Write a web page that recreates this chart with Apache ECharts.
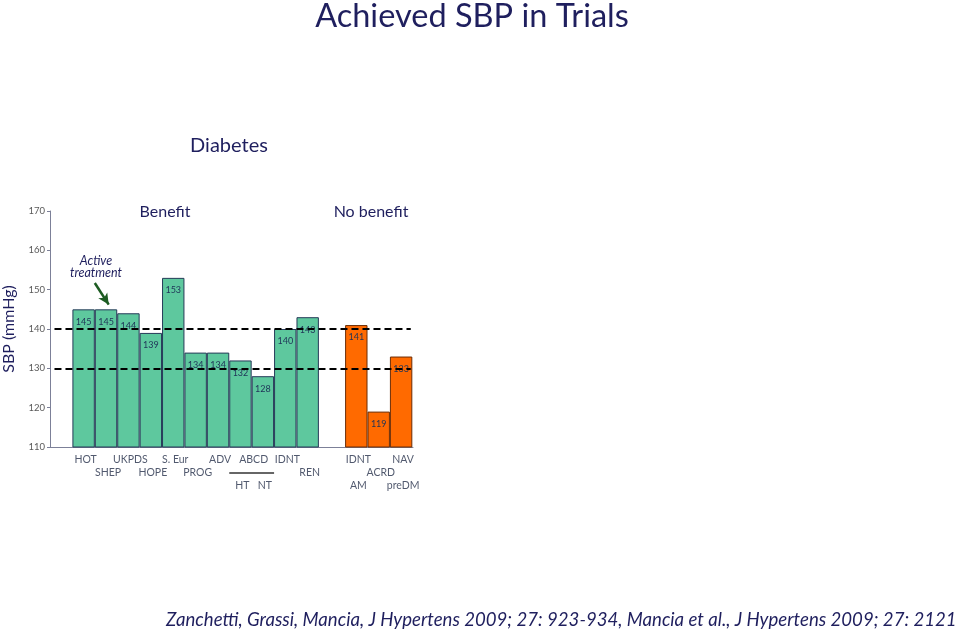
<!DOCTYPE html>
<html><head><meta charset="utf-8">
<script src="https://cdn.jsdelivr.net/npm/echarts@6/dist/echarts.min.js"></script>
<style>html,body{margin:0;padding:0;background:#fff}#c{width:960px;height:634px}</style>
</head><body><div id="c"></div>
<script>
// ---- data ----
const benefitTrials = ['HOT','SHEP','UKPDS','HOPE','S. Eur','PROG','ADV','ABCD HT','ABCD NT','IDNT','REN'];
const benefitSBP = [145,145,144,139,153,134,134,132,128,140,143];
const noBenefitTrials = ['IDNT','ACRD AM','NAV preDM'];
const noBenefitSBP = [141,119,133];
const targetLines = [140,130];
const yMin = 110, yMax = 170, yStep = 10;
// axis label rows: [label, bar index across all 14 bars (fractional = between bars)]
const labelRow1 = [['HOT',0],['UKPDS',2],['S. Eur',4],['ADV',6],['ABCD',7.5],['IDNT',9],['IDNT',11],['NAV',13]];
const labelRow2 = [['SHEP',1],['HOPE',3],['PROG',5],['REN',10],['ACRD',12]];
const labelRow3 = [['HT',7],['NT',8],['AM',11],['preDM',13]];

// ---- layout helpers ----
const NAVY = '#1f1f5e';
const FONT = 'Lato, "Open Sans", sans-serif';
const gridLeft = 50, gridTop = 211, gridW = 363, gridH = 236;
const xMax = 16.2;
const barPx = gridW / xMax;
const nB = benefitTrials.length;
function xOf(k) { // bar index -> x value on the axis
  if (k < nB) return 1.5 + k;
  return 13.67 + (k - nB);
}
const barData = benefitSBP.map((v, i) => ({
  name: benefitTrials[i], value: [xOf(i), v],
  itemStyle: { color: '#5ec89e', borderColor: '#263a58', borderWidth: 1 }
})).concat(noBenefitSBP.map((v, j) => ({
  name: noBenefitTrials[j], value: [xOf(nB + j), v],
  itemStyle: { color: '#ff6a00', borderColor: '#6b2c05', borderWidth: 1 }
})));
function labelSeries(row, dy) {
  return {
    type: 'scatter', symbolSize: 0, silent: true, clip: false, z: 5,
    data: row.map(r => ({ name: r[0], value: [xOf(r[1]), yMin] })),
    label: { show: true, position: 'inside', offset: [2, dy], formatter: '{b}',
      fontSize: 10.5, color: '#26304a', fontFamily: FONT }
  };
}

const chart = echarts.init(document.getElementById('c'), null, { renderer: 'canvas' });
chart.setOption({
  animation: false,
  backgroundColor: '#ffffff',
  grid: { left: gridLeft, top: gridTop, width: gridW, height: gridH, containLabel: false },
  xAxis: { type: 'value', min: 0, max: xMax,
    axisLine: { show: true, lineStyle: { color: '#7c8098', width: 1 } },
    axisTick: { show: false }, axisLabel: { show: false }, splitLine: { show: false } },
  yAxis: { type: 'value', min: yMin, max: yMax, interval: yStep,
    name: 'SBP (mmHg)', nameLocation: 'middle', nameGap: 33,
    nameTextStyle: { fontSize: 16, color: NAVY, fontFamily: FONT },
    axisLine: { show: true, lineStyle: { color: '#7c8098', width: 1 } },
    axisTick: { show: true, length: 3, lineStyle: { color: '#7c8098' } },
    axisLabel: { fontSize: 9.5, color: '#5a5a5a', margin: 5, fontFamily: FONT },
    splitLine: { show: false } },
  series: [
    { type: 'bar', data: barData, barWidth: barPx, clip: true,
      label: { show: true, position: 'insideTop', distance: 8, fontSize: 9,
        color: '#1f3358', fontFamily: FONT, formatter: p => p.value[1] },
      markLine: { silent: true, symbol: 'none', animation: false,
        label: { show: false },
        data: targetLines.map(v => [
          { coord: [0.2, v], lineStyle: { color: '#000', width: 2, type: [7, 4] } },
          { coord: [16.1, v] }
        ]).concat([[
          { coord: [2.0, 151.7], symbol: 'none', lineStyle: { color: '#1d5c22', width: 2.5, type: 'solid' } },
          { coord: [2.62, 146.2], symbol: 'arrow', symbolSize: [8, 11] }
        ]])
      }
    },
    labelSeries(labelRow1, 13),
    labelSeries(labelRow2, 26),
    labelSeries(labelRow3, 39)
  ]
});

// graphics (annotation text and the ABCD bracket line)
const p1 = chart.convertToPixel({ xAxisIndex: 0, yAxisIndex: 0 }, [xOf(7) - 0.5, yMin]);
const p2 = chart.convertToPixel({ xAxisIndex: 0, yAxisIndex: 0 }, [xOf(8) + 0.5, yMin]);
function txt(x, y, s, size, opts) {
  return Object.assign({ type: 'text', x: x, y: y, silent: true,
    style: Object.assign({ text: s, font: size + 'px ' + FONT, fill: NAVY,
      align: 'center', verticalAlign: 'middle' }, (opts || {})) });
}
chart.setOption({
  graphic: [
    txt(472, 17, 'Achieved SBP in Trials', 32.5),
    txt(229, 146, 'Diabetes', 20),
    txt(165, 212, 'Benefit', 16),
    txt(371, 212, 'No benefit', 16),
    txt(96, 261, 'Active', 12.5, { font: 'italic 12.5px ' + FONT }),
    txt(96, 273, 'treatment', 12.5, { font: 'italic 12.5px ' + FONT }),
    txt(166, 620, 'Zanchetti, Grassi, Mancia, J Hypertens 2009; 27: 923-934, Mancia et al., J Hypertens 2009; 27: 2121', 18.6,
      { font: 'italic 18.6px ' + FONT, align: 'left' }),
    { type: 'line', silent: true, shape: { x1: p1[0], y1: p1[1] + 26, x2: p2[0], y2: p2[1] + 26 },
      style: { stroke: '#333', lineWidth: 1.5 } }
  ]
});
</script></body></html>
